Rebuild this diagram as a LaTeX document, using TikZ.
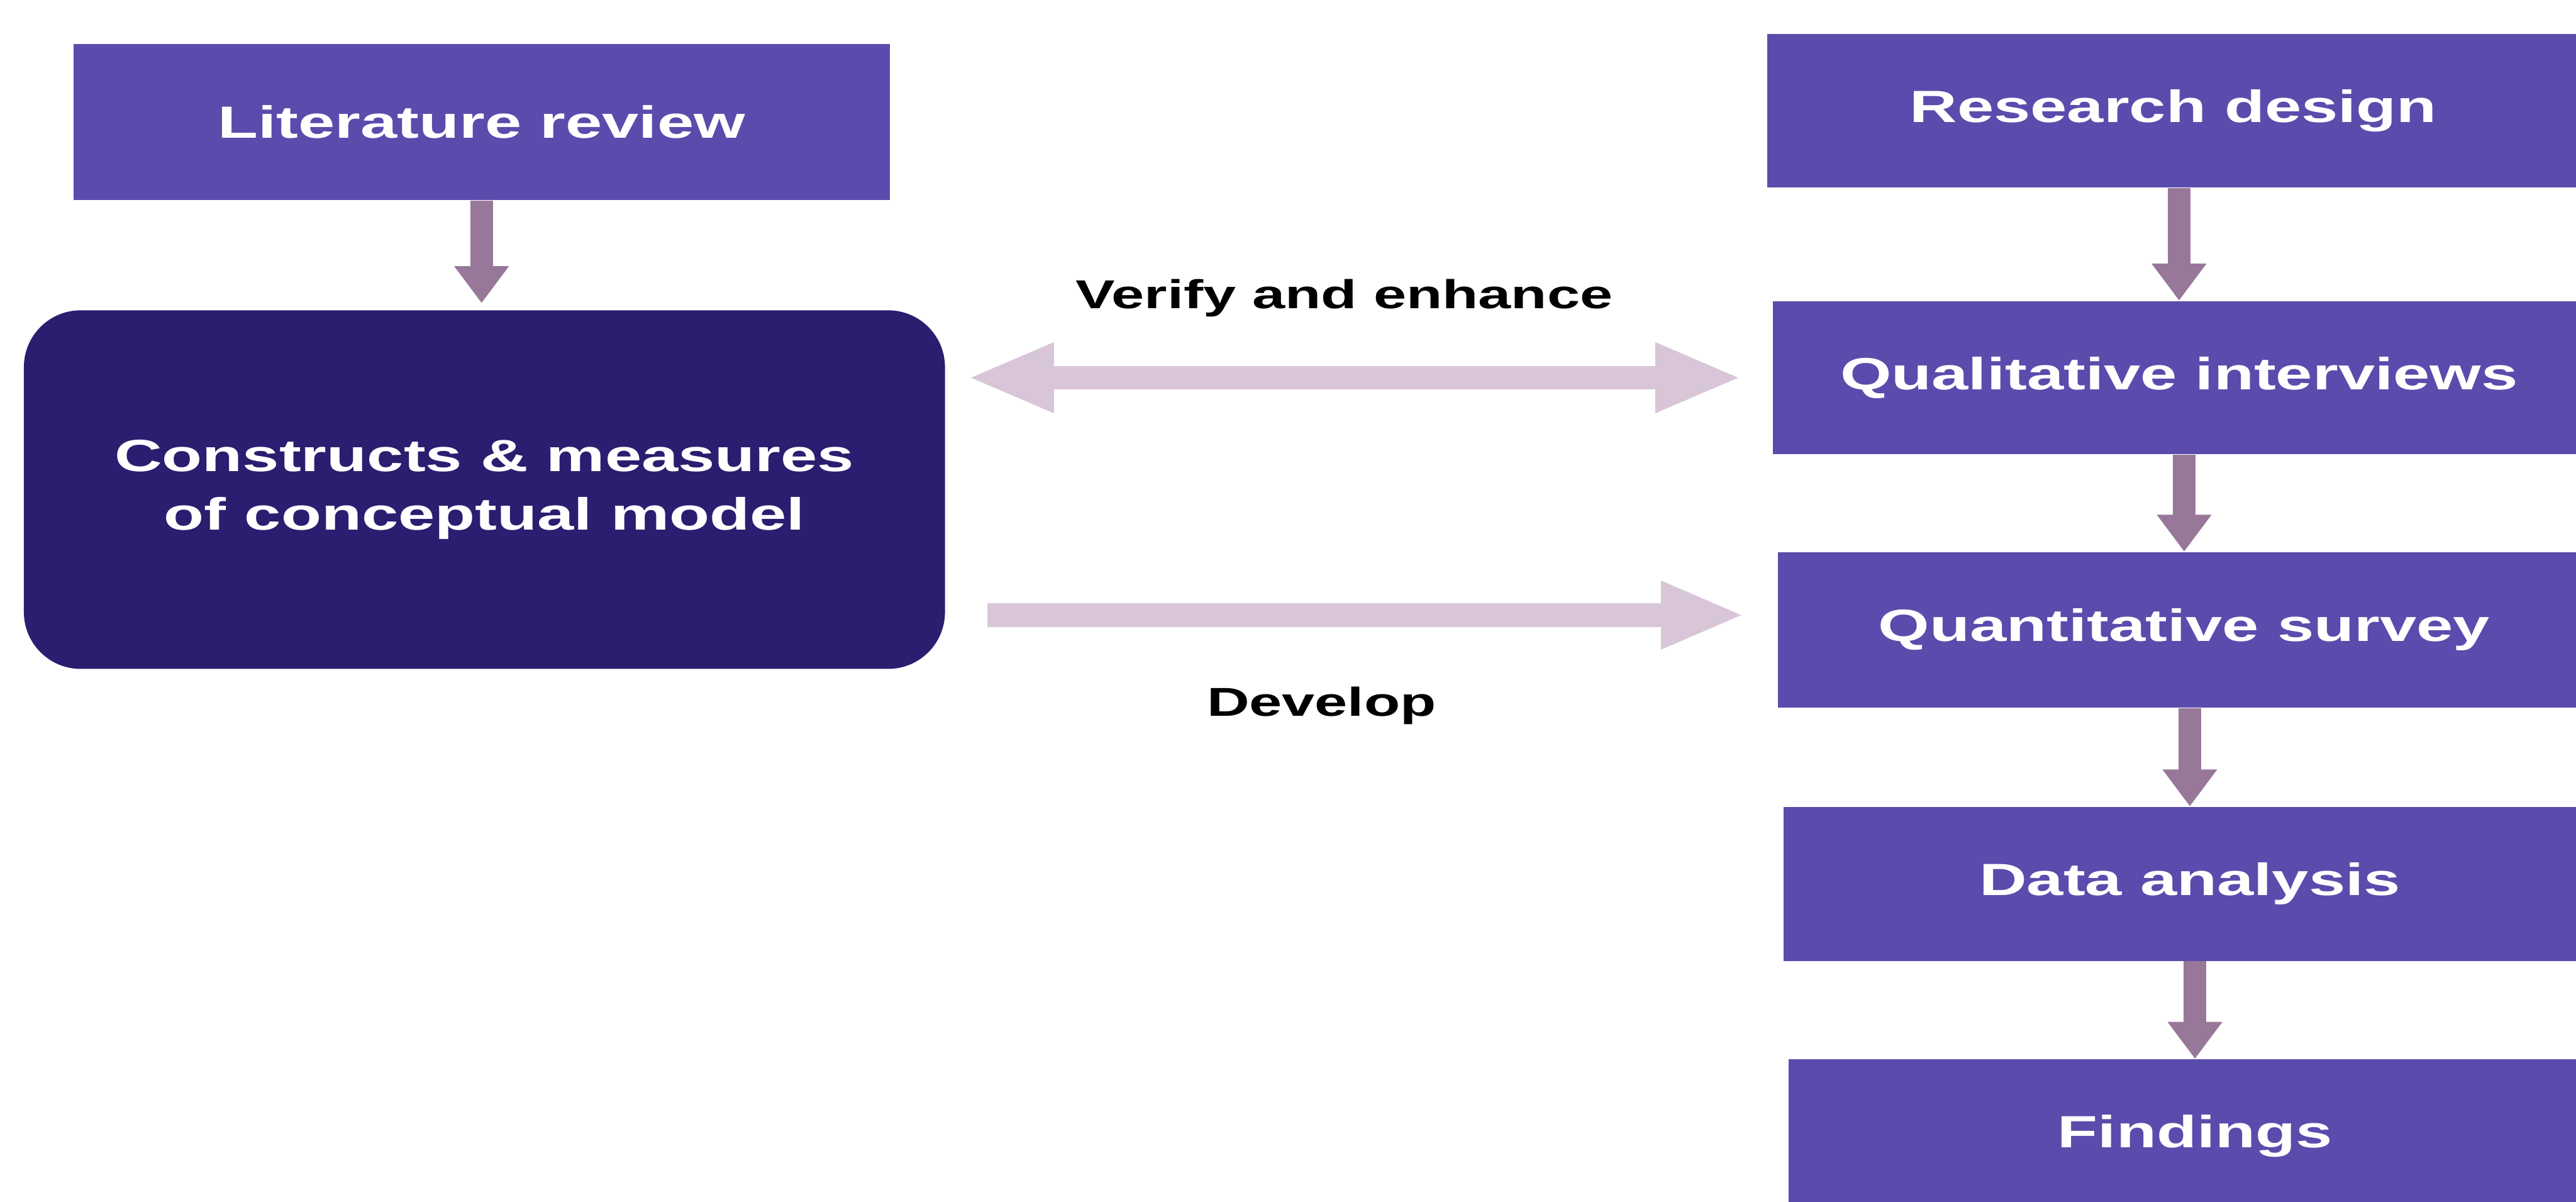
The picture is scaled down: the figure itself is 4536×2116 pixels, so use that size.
\documentclass[tikz,border=0pt]{standalone}
\usepackage{fontspec}
\setmainfont{Liberation Sans}[FakeStretch=1.46]
\usetikzlibrary{arrows.meta,calc}

\definecolor{stepfill}{RGB}{90,76,172}
\definecolor{modelfill}{RGB}{42,30,112}
\definecolor{flowarrow}{RGB}{152,120,152}
\definecolor{linkarrow}{RGB}{216,198,216}

\tikzset{
  stepbox/.style={fill=stepfill, text=white, inner sep=0pt,
    font=\bfseries\fontsize{22.6}{29.3}\selectfont},
  modelbox/.style={fill=modelfill, text=white, inner sep=0pt, align=center,
    rounded corners=1.0cm, font=\bfseries\fontsize{22.6}{29.3}\selectfont},
  caption/.style={text=black, inner sep=0pt, anchor=base,
    font=\bfseries\fontsize{20.2}{24}\selectfont},
  flow/.style={draw=flowarrow, line width=0.4cm,
    -{Triangle[length=0.65cm,width=0.92cm]}},
  link/.style={draw=linkarrow, line width=0.4cm,
    {Triangle[length=1.53cm,width=1.12cm]}-{Triangle[length=1.53cm,width=1.12cm]}},
  devlink/.style={draw=linkarrow, line width=0.43cm,
    -{Triangle[length=1.48cm,width=1.09cm]}}
}

\begin{document}
\begin{tikzpicture}[x=0.01cm, y=-0.01cm]
  \useasboundingbox (0,0) rectangle (4536,2116);
  \fill[white] (0,0) rectangle (4536,2116);

  % left column
  \node[stepbox, minimum width=14.37cm, minimum height=2.75cm] (lit) at (848,215) {Literature review};
  \node[modelbox, minimum width=16.21cm, minimum height=6.31cm] (cm) at (853,862)
    {Constructs \& measures\\of conceptual model};

  % right column: research process
  \node[stepbox, minimum width=14.30cm, minimum height=2.70cm] (rd) at (3827,195) {Research design};
  \node[stepbox, minimum width=14.30cm, minimum height=2.70cm] (qi) at (3837,665) {Qualitative interviews};
  \node[stepbox, minimum width=14.30cm, minimum height=2.74cm] (qs) at (3846,1109) {Quantitative survey};
  \node[stepbox, minimum width=14.30cm, minimum height=2.71cm] (da) at (3856,1556) {Data analysis};
  \node[stepbox, minimum width=14.30cm, minimum height=2.70cm] (fd) at (3865,2000) {Findings};

  % vertical flow arrows
  \draw[flow, shorten >=0.12cm] (lit.south) -- (lit.south |- cm.north);
  \draw[flow] (qi.north |- rd.south) -- (qi.north);
  \draw[flow] (qs.north |- qi.south) -- (qs.north);
  \draw[flow] (da.north |- qs.south) -- (da.north);
  \draw[flow] (fd.north |- da.south) -- (fd.north);

  % links between the model and the research process
  \draw[link, shorten <=0.38cm, shorten >=0.53cm] (cm.east |- qi.west) -- (qi.west);
  \coordinate (devend) at ($(qs.west)+(0,-26)$);
  \draw[devlink, shorten <=0.74cm, shorten >=0.57cm] (cm.east |- devend) -- (devend);

  \node[caption] (lblverify) at (2367,543) {Verify and enhance};
  \node[caption] (lbldevelop) at (2327,1261) {Develop};
\end{tikzpicture}
\end{document}
